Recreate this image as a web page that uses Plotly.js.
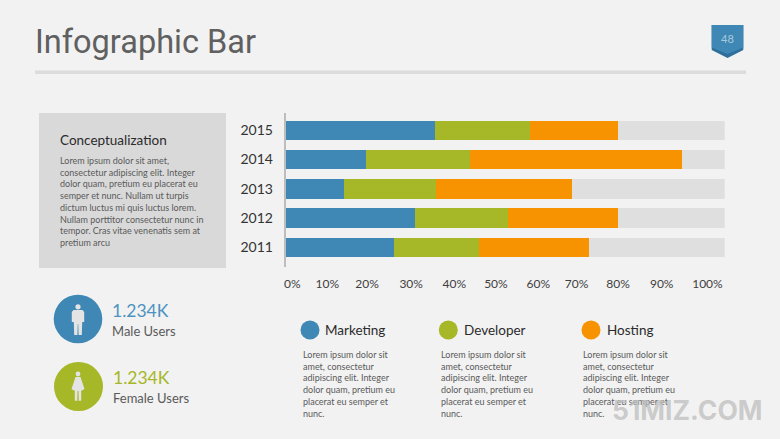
<!DOCTYPE html>
<html>
<head>
<meta charset="utf-8">
<script src="https://cdn.plot.ly/plotly-3.0.1.min.js"></script>
<style>html,body{margin:0;padding:0;background:#f2f2f2}#c{width:780px;height:439px}</style>
</head>
<body>
<div id="c"></div>
<script>
var years = ['2011', '2012', '2013', '2014', '2015'];
var marketing = [26, 31, 14, 19.3, 36];
var developer = [20.5, 22.6, 22.2, 25, 22.9];
var hosting = [26.4, 26.4, 32.6, 51.2, 21.1];
var remainder = [32.8, 25.7, 36.9, 10.2, 25.7];
var tickLabels = ['0%', '10%', '20%', '30%', '40%', '50%', '60%', '70%', '80%', '90%', '100%'];
var tickPlaces = [1.6, 10, 19.6, 30.2, 40.6, 50.6, 60.8, 70, 80, 90.5, 101.5];

var BLUE = '#3f88b5', GREEN = '#a6b727', ORANGE = '#f79300', TRACK = '#dfdfdf';
var W = 780, H = 439;
function px(x) { return x / W; }
function py(y) { return 1 - y / H; }

var LOREM_PANEL = 'Lorem ipsum dolor sit amet,<br>consectetur adipiscing elit. Integer<br>dolor quam, pretium eu placerat eu<br>semper et nunc. Nullam ut turpis<br>dictum luctus mi quis luctus lorem.<br>Nullam porttitor consectetur nunc in<br>tempor. Cras vitae venenatis sem at<br>pretium arcu';
var LOREM_COL = 'Lorem ipsum dolor sit<br>amet, consectetur<br>adipiscing elit. Integer<br>dolor quam, pretium eu<br>placerat eu semper et<br>nunc.';

function bar(name, values, color) {
  return { type: 'bar', orientation: 'h', name: name, y: years, x: values,
           marker: { color: color, line: { width: 0 } }, hoverinfo: 'skip' };
}
var traces = [
  bar('Marketing', marketing, BLUE),
  bar('Developer', developer, GREEN),
  bar('Hosting', hosting, ORANGE),
  bar('Remainder', remainder, TRACK)
];

function rect(x0, y0, x1, y1, color) {
  return { type: 'rect', xref: 'paper', yref: 'paper', x0: px(x0), x1: px(x1), y0: py(y0), y1: py(y1),
           fillcolor: color, line: { width: 0 }, layer: 'below' };
}
function circle(cx, cy, r, color) {
  return { type: 'circle', xref: 'paper', yref: 'paper', x0: px(cx - r), x1: px(cx + r), y0: py(cy - r), y1: py(cy + r),
           fillcolor: color, line: { width: 0 }, layer: 'below' };
}
function poly(points, color) {
  var d = points.map(function (p, i) { return (i ? 'L' : 'M') + px(p[0]) + ',' + py(p[1]); }).join(' ') + ' Z';
  return { type: 'path', xref: 'paper', yref: 'paper', path: d, fillcolor: color, line: { width: 0 }, layer: 'below' };
}

var ICON = '#e4e4e4';
var shapes = [
  rect(35, 70.5, 746, 74, '#dcdcdc'),
  rect(39, 113, 226, 268, '#d9d9d9'),
  poly([[711.7, 25], [743.3, 25], [743.3, 50], [727.5, 58], [711.7, 50]], '#2f6f9c'),
  poly([[711.7, 25], [743.3, 25], [743.3, 47.5], [727.5, 54], [711.7, 47.5]], BLUE),
  circle(78, 319, 24.3, BLUE),
  circle(78.5, 386.5, 24.5, GREEN),
  circle(310, 330, 9.5, BLUE),
  circle(448.3, 330, 9.5, GREEN),
  circle(591, 330, 9.5, ORANGE),
  // male icon
  circle(78, 306.8, 2.6, ICON),
  poly([[73.5, 310], [82.5, 310], [84.2, 312], [84.2, 322], [82.2, 322], [81.8, 335], [78.6, 335], [78.2, 324], [77.8, 324], [77.4, 335], [74.2, 335], [73.8, 322], [71.8, 322], [71.8, 312]], ICON),
  // female icon
  circle(78, 374, 2.4, ICON),
  poly([[75.5, 377], [80.5, 377], [84.5, 389], [82, 390.5], [81.2, 390.5], [81.2, 400.7], [78.7, 400.7], [78.5, 391], [77.5, 391], [77.3, 400.7], [74.8, 400.7], [74.8, 390.5], [74, 390.5], [71.5, 389]], ICON)
];

function note(x, y, text, size, color, extra) {
  var a = { xref: 'paper', yref: 'paper', x: px(x), y: py(y), text: text, showarrow: false,
            xanchor: 'left', yanchor: 'middle', align: 'left', borderpad: 0, borderwidth: 0,
            font: { family: 'Lato, sans-serif', size: size, color: color } };
  for (var k in extra) a[k] = extra[k];
  return a;
}
var BODY = '#5a5a5a', HEAD = '#2b2b2b';
var annotations = [
  note(35, 42, 'Infographic Bar', 32.5, '#606060', { font: { family: 'Roboto, sans-serif', size: 32.5, color: '#606060' } }),
  note(727.5, 38.5, '48', 11, '#a9c8dd', { xanchor: 'center', align: 'center' }),
  note(60, 140, 'Conceptualization', 13.5, HEAD),
  note(60, 155, LOREM_PANEL, 9, BODY, { yanchor: 'top' }),
  note(112, 310, '1.234K', 17.5, '#4d93c0'),
  note(112, 331, 'Male Users', 13, BODY),
  note(113, 377, '1.234K', 17.5, GREEN),
  note(113, 398, 'Female Users', 13, BODY),
  note(325, 330, 'Marketing', 13.5, HEAD),
  note(464, 330, 'Developer', 13.5, HEAD),
  note(607, 330, 'Hosting', 13.5, HEAD),
  note(302.5, 348.5, LOREM_COL, 9, BODY, { yanchor: 'top' }),
  note(441, 348.5, LOREM_COL, 9, BODY, { yanchor: 'top' }),
  note(583, 348.5, LOREM_COL, 9, BODY, { yanchor: 'top' }),
  note(612, 410, '51MIZ.COM', 26.5, 'rgba(190,190,190,0.75)', { font: { family: 'Inter, sans-serif', size: 26.5, color: 'rgba(190,190,190,0.75)', weight: 700 } })
];

var layout = {
  width: W, height: H,
  margin: { l: 0, r: 0, t: 0, b: 0, pad: 0 },
  paper_bgcolor: '#f2f2f2',
  plot_bgcolor: 'rgba(0,0,0,0)',
  barmode: 'stack',
  bargap: 0.333,
  showlegend: false,
  xaxis: {
    domain: [px(285.7), px(724.7)],
    range: [0, 105.66],
    tickmode: 'array', tickvals: tickPlaces, ticktext: tickLabels,
    showgrid: false, zeroline: false, showline: false,
    ticks: 'outside', ticklen: 6, tickcolor: 'rgba(0,0,0,0)',
    tickfont: { family: 'Lato, sans-serif', size: 12, color: '#404040' }
  },
  yaxis: {
    domain: [py(267), py(113)],
    type: 'category',
    range: [-0.674, 4.59],
    showgrid: false, zeroline: false,
    showline: true, linecolor: '#bdbdbd', linewidth: 2,
    ticks: 'outside', ticklen: 8, tickcolor: 'rgba(0,0,0,0)',
    tickfont: { family: 'Lato, sans-serif', size: 14, color: '#333333' }
  },
  shapes: shapes,
  annotations: annotations
};
Plotly.newPlot('c', traces, layout, { displayModeBar: false, staticPlot: true });
</script>
</body>
</html>
